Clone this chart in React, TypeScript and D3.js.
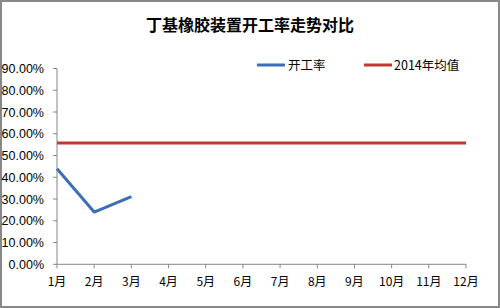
import React from "react";
import * as d3 from "d3";

const months = ["1月", "2月", "3月", "4月", "5月", "6月", "7月", "8月", "9月", "10月", "11月", "12月"];
const rateValues = [0.439, 0.24, 0.311];
const avg2014 = 0.557;
const yTicks = [0, 0.1, 0.2, 0.3, 0.4, 0.5, 0.6, 0.7, 0.8, 0.9];
const title = "丁基橡胶装置开工率走势对比";
const seriesNames = ["开工率", "2014年均值"];

const W = 500, H = 308;
const left = 57, right = 466, top = 68.5, bottom = 264.3;

export default function App() {
  const x = d3.scalePoint<string>().domain(months).range([left, right]);
  const y = d3.scaleLinear().domain([0, 0.9]).range([bottom, top]);
  const line = d3.line<number>().x((_, i) => x(months[i])!).y((d) => y(d));
  const fmt = (v: number) => (v * 100).toFixed(2) + "%";
  const font = "'Liberation Sans', Arial, sans-serif";
  const cjk = "'Noto Sans CJK SC', sans-serif";
  const axisColor = "#868686";
  return (
    <svg width={W} height={H} style={{ position: "absolute", left: 0, top: 0, background: "#fff" }}>
      <rect x={1} y={1} width={W - 2} height={H - 2} fill="#fff" stroke="#888" strokeWidth={2} />
      <text x={250} y={31} textAnchor="middle" fontFamily={cjk} fontSize={16} fontWeight={600} fill="#000">{title}</text>
      {/* legend */}
      <line x1={257} x2={285} y1={65} y2={65} stroke="#3b6fb6" strokeWidth={3} />
      <text x={288} y={70} fontFamily={cjk} fontSize={12.5} fill="#000">{seriesNames[0]}</text>
      <line x1={364} x2={392} y1={65} y2={65} stroke="#c0392f" strokeWidth={3} />
      <text x={394} y={70} fontFamily={cjk} fontSize={12.5} fill="#000">{seriesNames[1]}</text>
      {/* y axis */}
      <line x1={left} x2={left} y1={top} y2={bottom} stroke={axisColor} />
      {yTicks.map((t) => (
        <g key={t}>
          <line x1={left - 4} x2={left} y1={y(t)} y2={y(t)} stroke={axisColor} />
          <text x={44} y={y(t) + 4.5} textAnchor="end" fontFamily={font} fontSize={12.5} fill="#000">{fmt(t)}</text>
        </g>
      ))}
      {/* x axis */}
      <line x1={left} x2={right} y1={bottom} y2={bottom} stroke={axisColor} />
      {months.map((m) => (
        <g key={m}>
          <line x1={x(m)} x2={x(m)} y1={bottom} y2={bottom + 4} stroke={axisColor} />
          <text x={x(m)} y={bottom + 22} textAnchor="middle" fontFamily={cjk} fontSize={12} fill="#000">{m}</text>
        </g>
      ))}
      {/* average line */}
      <line x1={left} x2={right} y1={y(avg2014)} y2={y(avg2014)} stroke="#c0392f" strokeWidth={3} />
      {/* rate line */}
      <path d={line(rateValues) || ""} fill="none" stroke="#3b6fb6" strokeWidth={3} strokeLinejoin="round" />
    </svg>
  );
}
